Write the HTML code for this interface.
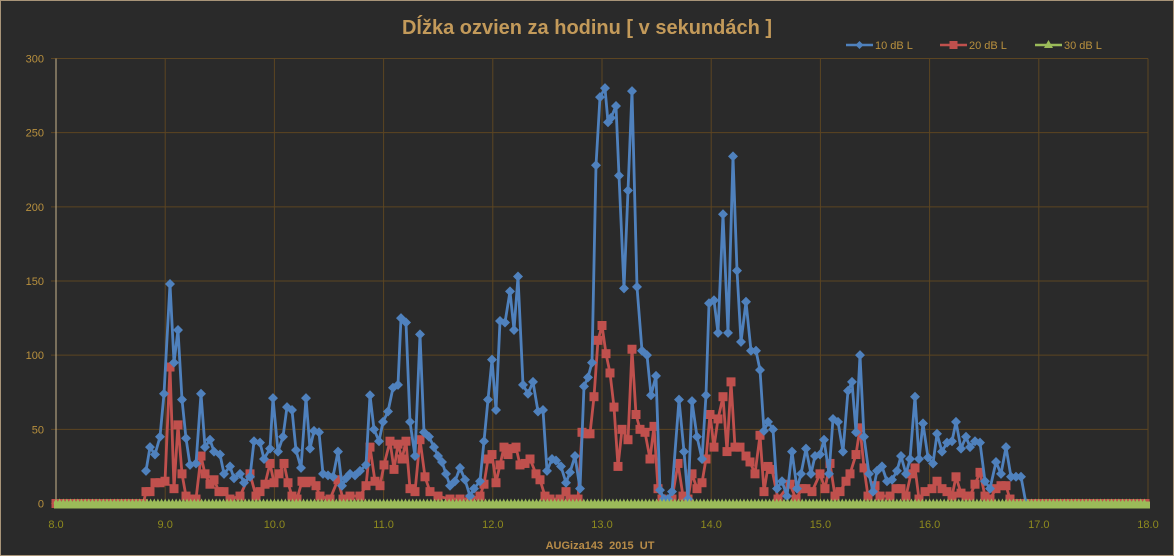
<!DOCTYPE html>
<html><head><meta charset="utf-8"><style>
html,body{margin:0;padding:0;background:#2a2a2a}
svg{display:block}
text{font-family:"Liberation Sans","DejaVu Sans",sans-serif}
</style></head><body>
<svg id="s" width="1174" height="556" xmlns="http://www.w3.org/2000/svg">
<rect x="0.5" y="0.5" width="1173" height="555" fill="#2a2a2a" stroke="#a89478"/>
<text x="587" y="34" text-anchor="middle" font-size="20" font-weight="bold" fill="#c39a5a">Dĺžka ozvien za hodinu [ v sekundách ]</text>
<g id="g"></g>
<text x="600" y="549" text-anchor="middle" font-size="11" font-weight="bold" fill="#b88c48">AUGiza143&#160;&#160;2015&#160;&#160;UT</text>
</svg>
<script>
const NS="http://www.w3.org/2000/svg",g=document.getElementById('g');
function el(t,a,txt){const e=document.createElementNS(NS,t);for(const k in a)e.setAttribute(k,a[k]);if(txt!==undefined)e.textContent=txt;g.appendChild(e);return e;}
const X0=56,X1=1148,Y0=503.5,Y3=58.5;
const yv=v=>Y0-(v/300)*(Y0-Y3);
for(let i=0;i<=6;i++){const y=yv(i*50);el('line',{x1:51,x2:X1,y1:y,y2:y,stroke:'#5c4522','stroke-width':1});
el('text',{x:44,y:y+4,'text-anchor':'end','font-size':11,fill:'#b8903e'},String(i*50));}
for(let h=8;h<=18;h++){const x=X0+(h-8)*(X1-X0)/10;el('line',{x1:x,x2:x,y1:Y3,y2:Y0+4,stroke:'#5c4522','stroke-width':1});
el('text',{x:x,y:528,'text-anchor':'middle','font-size':11,fill:'#8e8a1e'},h+'.0');}
el('line',{x1:X0,x2:X0,y1:Y3,y2:Y0,stroke:'#c8b48c','stroke-width':1});
const B=[146,22,150,38,155,33,160,45,164,74,170,148,174,95,178,117,182,70,186,44,190,26,196,27,201,74,205,38,210,43,214,35,220,33,224,20,230,25,234,17,240,20,244,14,250,18,254,42,260,41,264,30,270,37,273,71,278,35,283,45,287,65,292,63,296,36,301,24,306,71,310,37,314,49,319,48,323,20,328,19,333,18,338,35,342,12,346,17,350,20,355,19,360,22,366,26,370,73,374,50,379,42,383,55,388,62,393,78,398,80,401,125,406,122,410,55,415,32,420,114,424,48,429,45,434,38,438,32,442,28,446,20,450,12,455,15,460,24,465,16,470,5,474,10,480,15,484,42,488,70,492,97,496,63,500,123,505,122,510,143,514,117,518,153,523,80,528,74,533,82,538,62,543,63,547,22,552,30,556,29,561,25,566,14,570,21,575,32,580,10,584,79,588,85,592,95,596,228,600,274,605,280,608,257,611,260,616,268,619,221,624,145,628,211,632,278,637,146,642,103,647,100,651,73,656,86,660,9,664,3,668,3,672,8,679,70,684,35,688,3,692,69,697,45,702,30,706,73,709,135,714,137,718,115,723,195,728,115,733,234,737,157,741,109,746,136,751,103,756,103,760,90,764,49,768,55,773,50,777,10,782,15,787,5,792,35,797,10,801,20,806,37,811,20,815,32,820,33,824,43,829,20,833,57,838,55,843,35,848,76,852,82,856,48,860,100,864,45,869,20,873,8,877,22,882,25,887,15,892,16,897,22,901,32,906,20,910,30,915,72,919,30,923,54,928,31,933,27,937,47,942,35,947,41,952,42,956,55,961,37,966,45,970,38,975,42,980,41,985,15,990,10,996,28,1001,20,1006,38,1011,18,1016,18,1021,18,1026,0];
const R=[146,8,150,8,155,14,160,14,165,15,170,92,174,10,178,53,182,20,186,5,190,3,196,3,201,32,205,20,210,13,214,16,219,8,224,8,230,3,240,5,250,20,256,5,260,8,265,13,270,27,274,14,279,20,284,27,288,14,292,5,297,3,302,15,306,14,311,15,316,12,320,5,330,3,338,16,343,3,350,5,360,5,366,12,370,38,375,15,380,12,384,26,390,42,394,23,398,40,402,30,406,42,410,10,415,8,420,43,425,18,430,8,438,5,450,3,460,3,470,3,480,5,484,13,488,30,492,33,496,14,500,26,504,38,508,33,512,37,516,38,520,26,525,27,530,30,536,20,540,16,545,5,550,3,560,3,566,8,570,3,578,3,582,48,586,47,590,47,594,72,598,110,602,120,606,101,610,88,614,65,618,25,622,50,628,43,632,104,636,60,640,50,645,48,650,30,654,52,658,10,662,3,672,3,678,27,683,5,688,3,692,20,697,10,702,14,706,30,710,60,714,38,718,57,723,72,727,35,731,82,735,38,740,38,746,32,750,28,755,20,760,46,764,8,768,25,772,23,778,3,790,13,796,3,802,10,806,10,812,8,820,20,825,10,830,27,835,5,840,8,846,15,850,20,856,33,860,51,864,24,868,5,875,12,880,5,890,5,896,10,901,10,906,5,911,20,915,24,919,3,925,8,932,10,937,15,942,10,947,8,952,5,956,18,961,7,966,5,970,5,975,13,980,21,985,5,990,3,996,10,1001,12,1006,12,1010,3];
function pts(a){const p=[];for(let i=0;i<a.length;i+=2)p.push([a[i],yv(a[i+1])]);return p;}
let gp=[];for(let x=X0;x<=X1;x+=3.64)gp.push([x,Y0]);
let rp=[];for(let x=X0;x<146;x+=3.64)rp.push([x,Y0]);rp=rp.concat(pts(R));for(let x=1014;x<=X1;x+=3.64)rp.push([x,Y0]);
el('polyline',{points:rp.map(p=>p.join(',')).join(' '),fill:'none',stroke:'#c0504d','stroke-width':2.8,'stroke-linejoin':'round'});
rp.forEach(p=>el('rect',{x:p[0]-4.5,y:p[1]-4.5,width:9,height:9,fill:'#c0504d'}));
const bp=pts(B);
el('polyline',{points:bp.map(p=>p.join(',')).join(' '),fill:'none',stroke:'#4f81bd','stroke-width':2.8,'stroke-linejoin':'round'});
bp.forEach(p=>el('path',{d:`M${p[0]},${p[1]-5}L${p[0]+5},${p[1]}L${p[0]},${p[1]+5}L${p[0]-5},${p[1]}Z`,fill:'#4f81bd'}));
el('rect',{x:X0-2,y:Y0-2,width:X1-X0+4,height:7,fill:'#9bbb59'});
gp.forEach(p=>el('path',{d:`M${p[0]},${p[1]-5}L${p[0]+2.5},${p[1]}L${p[0]-2.5},${p[1]}Z`,fill:'#9bbb59'}));
function leg(x,col,shape,lab){el('line',{x1:x,x2:x+27,y1:45,y2:45,stroke:col,'stroke-width':2.5});
const c=x+13.5;if(shape==0)el('path',{d:`M${c},41L${c+4},45L${c},49L${c-4},45Z`,fill:col});
else if(shape==1)el('rect',{x:c-4,y:41,width:8,height:8,fill:col});
else el('path',{d:`M${c},40L${c+4.5},48L${c-4.5},48Z`,fill:col});
el('text',{x:x+29,y:49,'font-size':11,fill:'#b8903e'},lab);}
leg(846,'#4f81bd',0,'10 dB L');leg(940,'#c0504d',1,'20 dB L');leg(1035,'#9bbb59',2,'30 dB L');
</script>
</body></html>
